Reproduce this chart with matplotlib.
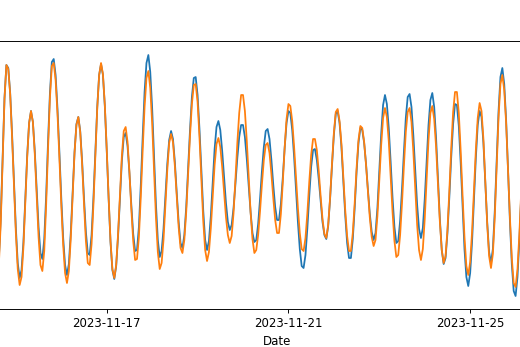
import pandas as pd
import matplotlib
matplotlib.use("Agg")
import matplotlib.pyplot as plt
import matplotlib.dates as mdates

# hourly water level (m), first reading 2023-11-14 13:00
START = "2023-11-14 13:00"

observed = [
    0.66, 0.47, 0.50, 0.90, 1.52, 2.11, 2.44, 2.41, 2.16, 1.75, 1.27, 0.81,
    0.46, 0.31, 0.39, 0.67, 1.10, 1.54, 1.86, 1.98, 1.87, 1.58, 1.20, 0.82,
    0.56, 0.50, 0.70, 1.13, 1.67, 2.16, 2.47, 2.50, 2.34, 2.00, 1.57, 1.11,
    0.71, 0.44, 0.34, 0.45, 0.76, 1.17, 1.57, 1.85, 1.92, 1.78, 1.48, 1.11,
    0.77, 0.56, 0.54, 0.74, 1.12, 1.58, 2.02, 2.34, 2.45, 2.34, 2.03, 1.59,
    1.11, 0.67, 0.39, 0.30, 0.43, 0.73, 1.11, 1.48, 1.72, 1.76, 1.63, 1.36,
    1.04, 0.75, 0.58, 0.59, 0.82, 1.24, 1.72, 2.17, 2.46, 2.54, 2.37, 2.01,
    1.53, 1.05, 0.69, 0.52, 0.58, 0.80, 1.12, 1.45, 1.69, 1.78, 1.70, 1.47,
    1.16, 0.87, 0.66, 0.61, 0.74, 1.02, 1.40, 1.79, 2.12, 2.31, 2.32, 2.14,
    1.80, 1.38, 0.98, 0.69, 0.59, 0.68, 0.93, 1.27, 1.60, 1.82, 1.88, 1.79,
    1.58, 1.32, 1.06, 0.87, 0.79, 0.84, 1.01, 1.25, 1.51, 1.72, 1.84, 1.84,
    1.72, 1.50, 1.23, 0.97, 0.76, 0.67, 0.69, 0.85, 1.10, 1.38, 1.62, 1.78,
    1.80, 1.70, 1.49, 1.24, 1.02, 0.89, 0.89, 1.05, 1.31, 1.61, 1.86, 1.98,
    1.96, 1.79, 1.52, 1.20, 0.87, 0.60, 0.43, 0.41, 0.54, 0.81, 1.13, 1.42,
    1.59, 1.60, 1.49, 1.30, 1.08, 0.87, 0.74, 0.70, 0.83, 1.10, 1.43, 1.74,
    1.95, 1.98, 1.86, 1.62, 1.28, 0.94, 0.66, 0.51, 0.51, 0.70, 1.01, 1.37,
    1.66, 1.81, 1.79, 1.66, 1.45, 1.19, 0.95, 0.77, 0.69, 0.76, 1.01, 1.38,
    1.75, 2.04, 2.14, 2.05, 1.81, 1.47, 1.11, 0.82, 0.66, 0.68, 0.88, 1.20,
    1.57, 1.91, 2.12, 2.15, 2.02, 1.73, 1.38, 1.04, 0.80, 0.71, 0.81, 1.10,
    1.47, 1.84, 2.09, 2.16, 2.02, 1.71, 1.31, 0.90, 0.59, 0.45, 0.51, 0.76,
    1.12, 1.52, 1.85, 2.05, 2.04, 1.83, 1.46, 1.02, 0.60, 0.32, 0.23, 0.36,
    0.67, 1.09, 1.51, 1.84, 1.98, 1.92, 1.66, 1.27, 0.87, 0.57, 0.46, 0.60,
    0.98, 1.49, 1.98, 2.32, 2.41, 2.25, 1.89, 1.40, 0.88, 0.45, 0.18, 0.13,
    0.32, 0.69, 1.15, 1.58, 1.87, 1.95,
]

predicted = [
    0.62, 0.41, 0.44, 0.85, 1.49, 2.10, 2.44, 2.40, 2.15, 1.72, 1.23, 0.76,
    0.40, 0.24, 0.32, 0.62, 1.06, 1.52, 1.86, 1.98, 1.87, 1.55, 1.13, 0.72,
    0.44, 0.38, 0.58, 1.04, 1.60, 2.11, 2.43, 2.46, 2.29, 1.95, 1.51, 1.04,
    0.64, 0.36, 0.26, 0.38, 0.70, 1.14, 1.56, 1.84, 1.92, 1.77, 1.45, 1.05,
    0.68, 0.46, 0.44, 0.65, 1.05, 1.54, 2.01, 2.34, 2.46, 2.35, 2.04, 1.60,
    1.12, 0.68, 0.40, 0.31, 0.44, 0.75, 1.15, 1.53, 1.78, 1.82, 1.67, 1.37,
    1.00, 0.68, 0.49, 0.50, 0.72, 1.12, 1.59, 2.02, 2.31, 2.38, 2.21, 1.86,
    1.39, 0.92, 0.57, 0.40, 0.46, 0.69, 1.04, 1.39, 1.66, 1.75, 1.67, 1.43,
    1.12, 0.82, 0.61, 0.56, 0.69, 0.97, 1.34, 1.73, 2.05, 2.24, 2.25, 2.07,
    1.72, 1.29, 0.88, 0.59, 0.48, 0.57, 0.81, 1.13, 1.44, 1.65, 1.71, 1.62,
    1.42, 1.17, 0.92, 0.74, 0.66, 0.73, 0.96, 1.30, 1.66, 1.96, 2.14, 2.14,
    1.98, 1.68, 1.32, 0.97, 0.70, 0.56, 0.59, 0.74, 0.98, 1.25, 1.49, 1.64,
    1.66, 1.56, 1.35, 1.11, 0.89, 0.76, 0.76, 0.95, 1.26, 1.61, 1.90, 2.05,
    2.03, 1.88, 1.62, 1.32, 1.01, 0.76, 0.60, 0.58, 0.71, 0.96, 1.27, 1.54,
    1.70, 1.70, 1.59, 1.38, 1.13, 0.90, 0.75, 0.71, 0.84, 1.11, 1.45, 1.76,
    1.97, 2.00, 1.88, 1.65, 1.32, 0.99, 0.73, 0.58, 0.58, 0.76, 1.06, 1.41,
    1.69, 1.83, 1.81, 1.67, 1.44, 1.17, 0.91, 0.72, 0.63, 0.69, 0.93, 1.28,
    1.64, 1.91, 2.01, 1.92, 1.68, 1.33, 0.97, 0.68, 0.52, 0.54, 0.74, 1.06,
    1.43, 1.77, 1.97, 2.01, 1.87, 1.57, 1.20, 0.84, 0.59, 0.49, 0.60, 0.90,
    1.30, 1.69, 1.96, 2.03, 1.90, 1.62, 1.25, 0.87, 0.59, 0.46, 0.53, 0.79,
    1.18, 1.61, 1.97, 2.17, 2.17, 1.96, 1.58, 1.13, 0.72, 0.43, 0.34, 0.47,
    0.77, 1.18, 1.59, 1.91, 2.06, 1.98, 1.70, 1.28, 0.85, 0.53, 0.41, 0.55,
    0.92, 1.43, 1.92, 2.25, 2.34, 2.19, 1.86, 1.40, 0.92, 0.51, 0.26, 0.22,
    0.40, 0.75, 1.19, 1.60, 1.88, 1.95,
]

dates = pd.date_range(START, periods=len(observed), freq="h")

# visible window of the axes (the figure is a crop of a wider plot)
ref = pd.Timestamp("2023-11-17")
x_min = ref + pd.Timedelta(hours=-61.65)
x_max = ref + pd.Timedelta(hours=241.57)

fig = plt.figure(figsize=(520 / 85, 347 / 85), dpi=85)
ax = fig.add_axes([-0.0192, 0.1095, 1.1038, 0.7723])

ax.plot(dates, observed, color="tab:blue")
ax.plot(dates, predicted, color="tab:orange")

ax.set_xlim(x_min, x_max)
ax.set_ylim(0, 2.68)
ax.xaxis.set_major_locator(mdates.DayLocator(bymonthday=range(1, 32, 4)))
ax.xaxis.set_major_formatter(mdates.DateFormatter("%Y-%m-%d"))
ax.set_xlabel("Date")
ax.set_yticks([])

fig.savefig("out.png", dpi=85)
